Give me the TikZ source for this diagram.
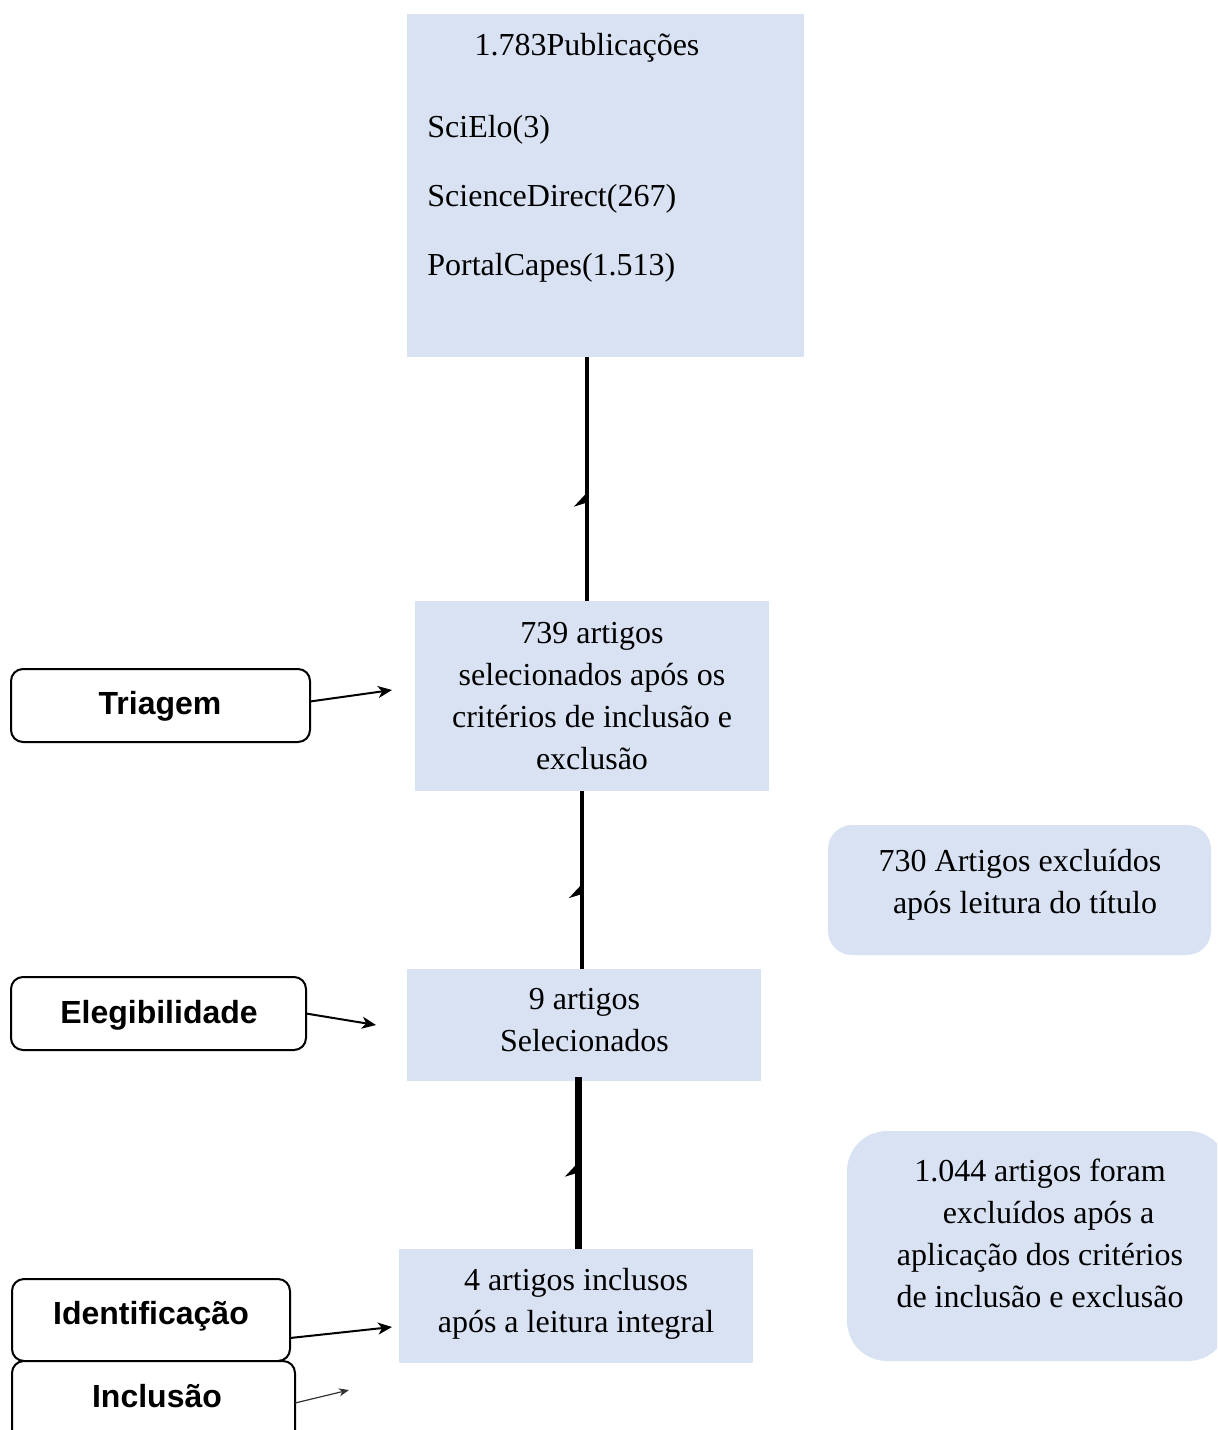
\documentclass[tikz,border=0pt]{standalone}
\usepackage{fontspec}
\setmainfont{Liberation Serif}
\setsansfont{Liberation Sans}
\usetikzlibrary{arrows.meta,decorations.markings}
\definecolor{boxblue}{HTML}{D9E2F3}
\begin{document}
\begin{tikzpicture}[x=0.5pt,y=-0.5pt,
  bluebox/.style={fill=boxblue,draw=none,inner sep=0,outer sep=0},
  rbox/.style={fill=boxblue,draw=none,inner sep=0,outer sep=0},
  labbox/.style={draw=black,line width=1pt,rounded corners=6pt,fill=white,inner sep=0,outer sep=0},
  serif/.style={font=\fontsize{16}{21}\selectfont,align=center,inner sep=0},
  lefttxt/.style={font=\fontsize{16}{21}\selectfont,inner sep=0,anchor=base west},
  labtxt/.style={font=\sffamily\bfseries\fontsize{16}{19}\selectfont,inner sep=0,anchor=base},
  flow/.style={line width=1.75pt, postaction={decorate},
    decoration={markings, mark=at position #1 with {\arrow{Stealth[harpoon,length=7pt,width=13pt,inset=2pt]}}}},
  side/.style={line width=1pt,-{Stealth[length=7pt,width=6pt,inset=2pt]}}
]
\useasboundingbox (0,0) rectangle (1217,1430);
\clip (0,0) rectangle (1217,1430);

% blue boxes
\node[bluebox,minimum width=198.5pt,minimum height=171.5pt] (pub) at (605.5,185.5) {};
\node[bluebox,minimum width=177pt,minimum height=95pt] (b739) at (592,696) {};
\node[bluebox,minimum width=177pt,minimum height=56pt] (b9) at (584,1025) {};
\node[bluebox,minimum width=177pt,minimum height=57pt] (b4) at (576,1306) {};
\node[rbox,rounded corners=12pt,minimum width=191.5pt,minimum height=65pt] (b730) at (1019.5,890) {};
\node[rbox,rounded corners=20pt,minimum width=190.5pt,minimum height=115pt] (b1044) at (1037.5,1246) {};

% texts in blue boxes
\node[serif,anchor=base] (pubt) at (587,55) {1.783Publicações};
\node[lefttxt] (sci) at (427,137) {SciElo(3)};
\node[lefttxt] (sd) at (427,206) {ScienceDirect(267)};
\node[lefttxt] (pc) at (427,275) {PortalCapes(1.513)};
\node[serif] (t739) at (592,696) {739 artigos\\selecionados após os\\critérios de inclusão e\\exclusão};
\node[serif] (t9) at (584.5,1020.5) {9 artigos\\Selecionados};
\node[serif] (t4) at (576,1303.5) {4 artigos inclusos\\após a leitura integral};
\node[serif] (t730) at (1020,884.5) {730 Artigos excluídos\\\hspace*{5pt}após leitura do título};
\node[serif] (t1044) at (1040,1233.5) {1.044 artigos foram\\\hspace*{8.5pt}excluídos após a\\aplicação dos critérios\\de inclusão e exclusão};

% left label boxes
\node[labbox,minimum width=149.5pt,minimum height=36.5pt] (tri) at (160.5,705.5) {};
\node[labbox,minimum width=147.5pt,minimum height=36.5pt] (ele) at (158.5,1013.5) {};
\node[labbox,minimum width=139pt,minimum height=41pt] (idf) at (151,1320) {};
\node[labbox,minimum width=141.5pt,minimum height=42pt] (inc) at (153.5,1403) {};
\node[labtxt] (tritxt) at (160,714) {Triagem};
\node[labtxt] (eletxt) at (159,1023) {Elegibilidade};
\node[labtxt] (idftxt) at (151,1324) {Identificação};
\node[labtxt] (inctxt) at (157,1407) {Inclusão};

% side arrows
\coordinate (ta) at (392,690);
\coordinate (ea) at (376,1025);
\coordinate (ia) at (392,1327);
\coordinate (na) at (349,1390);
\draw[side] ([yshift=2pt]tri.east) -- (ta);
\draw[side] (ele.east) -- (ea);
\draw[side] ([yshift=-9pt]idf.east) -- (ia);
\draw[line width=0.6pt,draw=black!80,-{Stealth[length=5pt,width=4pt,inset=1.5pt]}] (inc.east) -- (na);

% vertical flow lines
\draw[flow=0.45] ([xshift=-2.5pt]b739.north) -- ([xshift=-9.25pt]pub.south);
\draw[flow=0.485] ([xshift=-1pt]b9.north) -- ([xshift=-5pt]b739.south);
\draw[flow=0.51,line width=3.5pt] ([xshift=1pt]b4.north) -- ([xshift=-3pt,yshift=2pt]b9.south);
\end{tikzpicture}
\end{document}
